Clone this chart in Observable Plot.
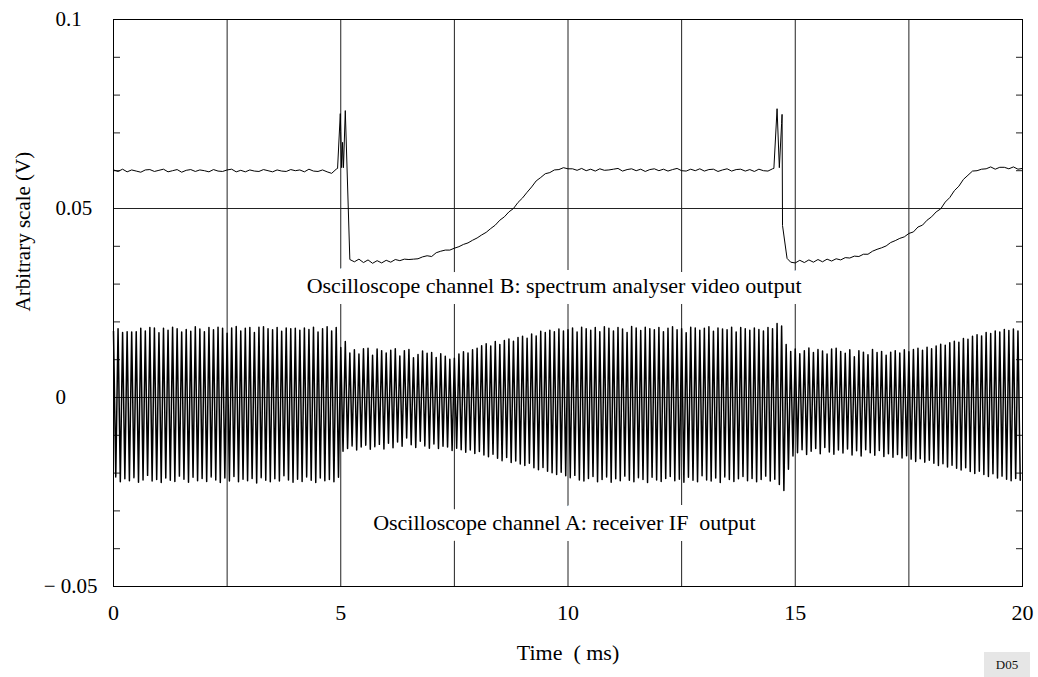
<!DOCTYPE html>
<html><head><meta charset="utf-8">
<script src="https://cdn.jsdelivr.net/npm/d3@7"></script>
<script src="https://cdn.jsdelivr.net/npm/@observablehq/plot@0.6"></script>
<style>
body{margin:0;background:#fff;}
#wrap{position:relative;width:1038px;height:677px;}
svg text{white-space:pre;}
#tag{position:absolute;left:984px;top:652px;width:46px;height:25px;background:#e6e6e6;font:13px "Liberation Serif","Times New Roman",serif;display:flex;align-items:center;justify-content:center;color:#111;}
</style></head><body><div id="wrap"><div id="tag">D05</div></div>
<script>
// ---- Axis ticks / labels ----
const xTicks = [0, 5, 10, 15, 20];
const xGridTicks = [2.5, 5, 7.5, 10, 12.5, 15, 17.5];
const yGridTicks = [0.05, 0];
const yTickValues = [0.1, 0.05, 0, -0.05];
const yTickText = ["0.1", "0.05", "0", "\u2212 0.05"];
const yMinorTicks = [0.09, 0.08, 0.07, 0.06, 0.04, 0.03, 0.02, 0.01, -0.01, -0.02, -0.03, -0.04];
const xLabel = "Time  ( ms)";
const yLabel = "Arbitrary scale (V)";
const labelB = "Oscilloscope channel B: spectrum analyser video output";
const labelA = "Oscilloscope channel A: receiver IF  output";

// ---- Channel B (spectrum analyser video), mV, sampled every 0.1 ms from 0 to 20 ms ----
const bStepMs = 0.1;
const bVolt = [
  60.2,59.8,60.4,59.7,60.2,59.9,59.6,60.2,60.3,59.8,
  60.1,60.4,59.7,60.0,60.3,59.6,60.1,60.3,59.8,60.2,
  60.0,59.7,60.3,59.9,59.8,60.2,60.4,59.7,60.1,59.7,
  60.2,59.9,59.8,60.3,60.0,59.7,60.2,59.9,59.8,60.3,
  60.0,60.2,59.7,60.4,59.9,59.8,60.2,59.7,59.3,60.4,
  70.3,75.9,36.5,35.9,36.6,35.7,36.4,35.5,36.2,35.6,
  36.3,35.8,36.5,36.2,36.6,36.5,36.6,36.7,37.2,37.5,
  37.3,38.3,38.7,39.0,39.0,39.5,39.9,40.5,40.9,41.6,
  42.2,43.0,43.7,44.7,45.6,46.9,47.8,49.1,50.0,51.6,
  52.8,54.3,55.7,57.3,58.2,59.2,59.5,60.2,60.3,60.8,
  60.5,60.5,60.1,60.6,60.0,60.4,59.9,60.5,60.1,60.2,
  60.4,60.6,59.9,60.3,60.5,60.0,60.4,59.8,60.3,60.5,
  60.0,60.4,59.9,60.3,60.6,60.0,59.9,60.4,60.0,60.5,
  59.9,60.3,60.4,59.8,60.2,60.5,59.9,60.3,60.4,59.9,
  60.3,59.8,60.4,60.0,59.9,60.5,76.4,72.5,38.5,35.8,
  35.6,36.3,35.7,36.4,35.8,36.5,35.9,36.6,36.1,36.7,
  36.4,37.0,36.9,37.4,37.3,37.9,37.9,38.7,39.2,39.6,
  40.1,41.0,41.5,42.1,42.5,43.4,43.8,45.1,45.6,46.9,
  47.8,49.1,49.9,51.7,52.9,54.7,55.9,57.7,58.8,59.9,
  60.0,60.4,60.5,61.0,60.4,60.9,60.9,60.5,61.0,60.4,
  60.6
];
// extra samples at the two spikes
const bSpikeTime = [4.93, 4.99, 5.02, 5.04, 5.06, 14.53, 14.65, 14.71, 14.72, 14.82];
const bSpikeVolt = [60.6, 75.1, 60.8, 67.5, 60.8, 60.6, 60.8, 74.9, 45.5, 36.8];

// ---- Channel A (receiver IF), mV: successive peaks (at k*0.1 ms) and troughs (at k*0.1+0.05 ms) ----
const aStepMs = 0.1;
const aPeak = [
  17.5,18.2,17.2,17.4,17.3,17.4,18.3,17.6,18.5,18.4,
  17.1,18.3,17.8,18.6,18.2,17.3,18.0,17.5,18.7,18.1,
  17.4,18.5,17.9,18.6,18.3,17.0,18.4,18.8,17.6,18.3,
  18.5,17.2,18.6,18.7,18.2,17.9,18.5,17.5,18.4,18.2,
  18.3,17.8,18.4,18.0,18.6,17.3,18.2,18.7,17.6,18.5,
  13.2,14.8,11.8,12.6,11.5,12.9,13.0,11.2,12.8,12.4,
  11.8,12.5,12.9,11.0,12.4,12.7,10.5,11.4,12.3,11.7,
  11.9,10.6,11.6,10.9,10.1,10.4,11.5,12.1,11.8,12.6,
  13.0,13.7,14.2,13.6,14.8,14.0,15.1,15.5,14.9,15.9,
  16.2,15.7,16.8,16.3,17.5,17.2,17.8,17.4,18.1,17.6,
  17.9,18.4,17.3,18.6,18.2,17.8,18.5,17.4,18.7,18.3,
  17.6,18.5,18.1,17.2,18.8,18.4,17.7,18.6,18.2,17.9,
  18.5,17.4,18.3,18.7,17.9,18.2,17.1,18.6,18.4,17.8,
  18.3,18.7,17.5,18.4,18.1,17.9,18.6,17.3,18.5,18.2,
  17.8,18.4,18.0,17.6,18.5,18.2,19.6,18.9,14.0,12.2,
  12.8,11.6,12.4,13.1,11.9,12.7,12.3,11.5,12.8,13.0,
  12.2,11.7,12.6,10.8,12.4,12.0,11.3,12.7,11.9,12.2,
  11.2,12.0,12.4,11.8,12.6,12.1,12.7,13.0,12.5,13.3,
  12.9,13.6,14.1,13.8,14.5,14.9,14.6,15.6,15.4,16.2,
  16.6,16.3,17.2,16.9,17.6,17.3,18.0,17.7,18.1,17.6
];
const aTrough = [
  -21.0,-22.3,-21.5,-22.0,-21.2,-22.4,-21.8,-20.6,-22.1,-21.7,
  -22.5,-21.3,-21.9,-22.2,-20.8,-21.6,-22.4,-21.1,-22.0,-21.4,
  -22.2,-21.0,-21.8,-22.5,-21.3,-22.1,-20.9,-22.3,-21.6,-22.0,
  -21.4,-22.6,-21.2,-21.9,-22.3,-21.5,-22.1,-20.7,-21.8,-22.4,
  -21.6,-22.2,-21.0,-21.9,-22.5,-21.3,-22.0,-21.7,-22.3,-21.1,
  -14.2,-13.5,-12.8,-13.9,-13.1,-12.6,-13.7,-13.0,-12.4,-13.6,
  -12.1,-13.3,-11.8,-12.9,-10.7,-12.5,-13.2,-11.6,-12.8,-13.4,
  -12.3,-13.5,-12.9,-13.1,-14.0,-13.4,-13.8,-14.5,-13.9,-14.8,
  -14.3,-15.2,-15.7,-15.0,-16.1,-16.7,-15.9,-17.2,-16.8,-17.6,
  -18.0,-17.4,-18.6,-19.1,-18.5,-19.5,-19.9,-20.4,-19.8,-20.7,
  -21.2,-20.6,-21.8,-22.1,-21.4,-20.9,-22.3,-21.7,-21.0,-22.4,
  -21.5,-22.0,-20.8,-21.9,-22.3,-21.2,-21.7,-22.5,-21.1,-21.8,
  -22.2,-21.4,-20.9,-22.0,-21.6,-22.4,-21.1,-21.9,-22.3,-20.7,
  -21.8,-22.1,-21.3,-22.5,-21.0,-21.7,-22.2,-21.5,-20.9,-22.0,
  -21.4,-22.3,-21.7,-20.8,-22.1,-21.6,-23.0,-24.6,-19.0,-15.5,
  -14.6,-13.8,-15.1,-14.2,-13.5,-14.9,-13.2,-14.4,-15.0,-13.9,
  -14.7,-13.6,-15.2,-14.1,-15.5,-13.8,-14.6,-15.3,-14.0,-15.6,
  -14.9,-15.8,-15.1,-16.0,-15.4,-16.3,-16.9,-16.2,-17.1,-16.6,
  -17.4,-18.0,-17.5,-18.4,-17.9,-18.7,-19.2,-18.6,-19.6,-20.1,
  -19.5,-20.4,-20.9,-20.2,-21.3,-20.8,-21.6,-22.0,-21.4,-21.9
];

// ---- Build tables ----
const bData = bVolt.map((v, i) => ({t: +(i * bStepMs).toFixed(2), v: v / 1000}))
  .concat(bSpikeTime.map((t, i) => ({t, v: bSpikeVolt[i] / 1000})))
  .sort((a, b) => a.t - b.t);
const aData = [];
aPeak.forEach((p, i) => {
  aData.push({t: i * aStepMs, v: p / 1000});
  aData.push({t: i * aStepMs + aStepMs / 2, v: aTrough[i] / 1000});
});

const fmtY = d => yTickText[yTickValues.indexOf(d)];
const font = '"Liberation Serif", "Times New Roman", serif';

const chart = Plot.plot({
  width: 1038,
  height: 677,
  marginTop: 19,
  marginBottom: 91,
  marginLeft: 113,
  marginRight: 16,
  style: {fontFamily: font, background: "white", color: "black", overflow: "visible"},
  x: {domain: [0, 20]},
  y: {domain: [-0.05, 0.1]},
  marks: [
    Plot.gridX(xGridTicks, {stroke: "#222", strokeOpacity: 1, strokeWidth: 1}),
    Plot.gridY(yGridTicks, {stroke: "#222", strokeOpacity: 1, strokeWidth: 1}),
    Plot.axisY(yMinorTicks, {anchor: "left", tickSize: 7, dx: 7, fill: "none", label: null, stroke: "#222"}),
    Plot.axisY(yMinorTicks, {anchor: "right", tickSize: 7, dx: -7, fill: "none", label: null, stroke: "#222"}),
    Plot.axisY(yTickValues.filter(d => d >= 0), {anchor: "left", tickSize: 0, tickPadding: 3, dx: -55, textAnchor: "start", tickFormat: fmtY, fontSize: 21, label: null}),
    Plot.axisY(yTickValues.filter(d => d < 0), {anchor: "left", tickSize: 0, tickPadding: 16, textAnchor: "end", tickFormat: fmtY, fontSize: 21, label: null}),
    Plot.axisX(xTicks, {anchor: "bottom", tickSize: 0, tickPadding: 18, fontSize: 22, label: null}),
    Plot.line(aData, {x: "t", y: "v", stroke: "black", strokeWidth: 1.5}),
    Plot.text([labelB], {text: d => d, x: 4.25, y: 0.0296, textAnchor: "start", fontSize: 22, fill: "black", stroke: "white", strokeWidth: 22, strokeLinejoin: "round", paintOrder: "stroke"}),
    Plot.text([labelA], {text: d => d, x: 9.92, y: -0.0331, textAnchor: "middle", fontSize: 22, fill: "black", stroke: "white", strokeWidth: 22, strokeLinejoin: "round", paintOrder: "stroke"}),
    Plot.line(bData, {x: "t", y: "v", stroke: "black", strokeWidth: 1}),
    Plot.text([xLabel], {text: d => d, frameAnchor: "bottom", dy: 73.5, fontSize: 22, fill: "black"}),
    Plot.text([yLabel], {text: d => d, frameAnchor: "left", dx: -90, dy: 8.5, rotate: -90, fontSize: 21, fill: "black"}),
    Plot.frame({stroke: "black", strokeWidth: 1})
  ]
});
document.getElementById("wrap").prepend(chart);
</script>
</body></html>
